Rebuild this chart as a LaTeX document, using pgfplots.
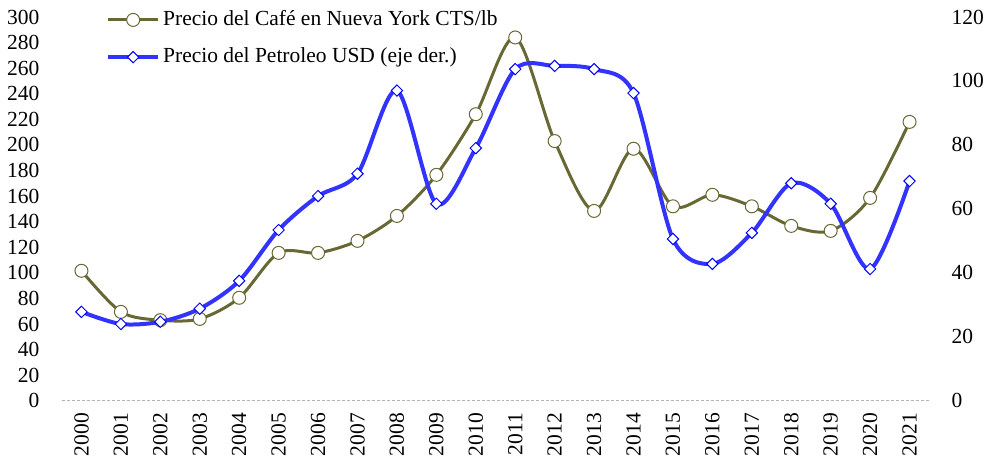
\documentclass[border=0pt]{standalone}
\usepackage{fontspec}
\setmainfont{Liberation Serif}
\usepackage{pgfplots}
\pgfplotsset{compat=1.18}
\definecolor{cafe}{RGB}{104,104,52}
\definecolor{petro}{RGB}{51,51,255}
\pgfplotstableread{
x cafe petro
0 101.6 27.8
1 69.5 24.0
2 63.0 24.7
3 64.0 28.8
4 80.5 37.5
5 115.6 53.4
6 115.6 64.0
7 125.0 71.0
8 144.5 97.0
9 176.6 61.6
10 224.0 79.0
11 284.0 103.7
12 203.0 104.7
13 148.4 103.7
14 197.0 96.2
15 152.0 50.6
16 161.0 42.8
17 152.0 52.5
18 136.7 68.0
19 132.8 61.6
20 158.6 41.2
21 218.0 68.7
}\datatable
\begin{document}
\fontsize{21.5}{25}\selectfont
\begin{tikzpicture}
\pgfplotsset{
  base/.style={
    scale only axis, width=868pt, height=384pt,
    xmin=-0.5, xmax=21.5, ymin=0,
    axis line style={draw=none},
    major tick length=0pt,
    tick label style={font=\fontsize{21.5}{25}\selectfont},
    /pgf/number format/assume math mode=true,
    clip=false,
  },
  legend image code/.code={\draw[mark repeat=2,mark phase=2,#1] plot coordinates {(0pt,0pt)(25pt,0pt)(50pt,0pt)};},
}
\begin{axis}[base,
  ymax=300, ytick={0,20,...,300},
  axis y line*=left, axis x line*=bottom,
  xtick={0,...,21},
  xticklabels={2000,2001,2002,2003,2004,2005,2006,2007,2008,2009,2010,2011,2012,2013,2014,2015,2016,2017,2018,2019,2020,2021},
  x tick label style={rotate=90, anchor=east, xshift=-5pt},
  y tick label style={xshift=-15pt},
  legend style={draw=none, fill=none, at={(0.051,1.022)}, anchor=north west, inner sep=0pt, row sep=15pt, font=\fontsize{21.5}{25}\selectfont, nodes={inner xsep=3pt}},
  legend cell align=left,
]
\path (rel axis cs:0,1) -- ++(0pt,17pt);
\draw[gray!60, dash pattern=on 3pt off 2pt, line width=1pt] (rel axis cs:0,0) -- (rel axis cs:1,0);
\addplot[cafe, line width=3pt, smooth, mark=*, mark size=6.5pt, mark options={fill=white, draw=cafe, line width=1pt, solid}] table[x=x, y=cafe] {\datatable};
\addlegendentry{Precio del Café en Nueva York CTS/lb}
\addlegendimage{petro, line width=4pt, mark=square*, mark size=4pt, mark options={rotate=45, fill=white, draw=blue, line width=1pt, solid}}
\addlegendentry{Precio del Petroleo USD (eje der.)}
\end{axis}
\begin{axis}[base,
  ymax=120, ytick={0,20,...,120},
  axis y line*=right, axis x line=none,
  y tick label style={xshift=15pt},
]
\addplot[petro, line width=4pt, smooth, mark=square*, mark size=4pt, mark options={rotate=45, fill=white, draw=blue, line width=1pt, solid}] table[x=x, y=petro] {\datatable};
\end{axis}
\end{tikzpicture}
\end{document}
